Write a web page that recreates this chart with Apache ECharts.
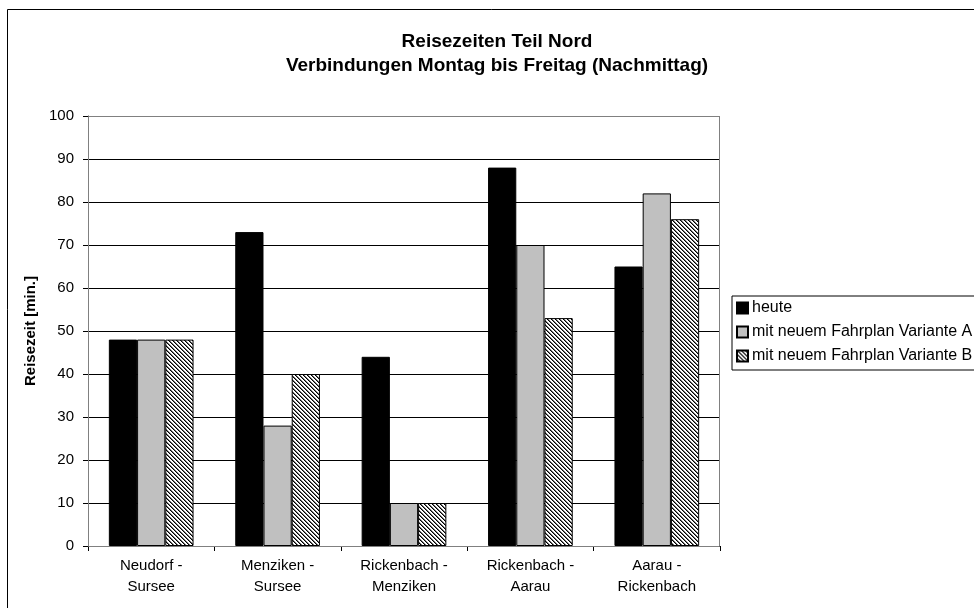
<!DOCTYPE html>
<html>
<head>
<meta charset="utf-8">
<script src="https://cdn.jsdelivr.net/npm/echarts@6/dist/echarts.min.js"></script>
<style>
  html, body { margin: 0; padding: 0; background: #fff; }
  #chart { width: 974px; height: 608px; }
</style>
</head>
<body>
<div id="chart"></div>
<script>
var categories = ['Neudorf -\nSursee', 'Menziken -\nSursee', 'Rickenbach -\nMenziken', 'Rickenbach -\nAarau', 'Aarau -\nRickenbach']
var heute = [48, 73, 44, 88, 65]
var varianteA = [48, 28, 10, 70, 82]
var varianteB = [48, 40, 10, 53, 76]
var seriesNames = ['heute', 'mit neuem Fahrplan Variante A', 'mit neuem Fahrplan Variante B']
var yTicks = { min: 0, max: 100, interval: 10 }

// diagonal hatch like the old office fill
function makeHatch() {
  var c = document.createElement('canvas')
  c.width = 4
  c.height = 4
  var ctx = c.getContext('2d')
  ctx.fillStyle = '#fff'
  ctx.fillRect(0, 0, 4, 4)
  for (var i = 0; i < 4; i++) {
    ctx.fillStyle = '#000'
    ctx.fillRect(i, i, 1, 1)
    ctx.fillStyle = '#707070'
    ctx.fillRect((i + 1) % 4, i, 1, 1)
  }
  return c
}

// gridlines black, top one grey like the plot frame
var gridColors = []
for (var t = yTicks.min; t <= yTicks.max; t += yTicks.interval) {
  gridColors.push(t === yTicks.max ? '#808080' : '#000')
}

var font = 'Arial, "Liberation Sans", sans-serif'
var chart = echarts.init(document.getElementById('chart'), null, { renderer: 'canvas' })

var option = {
  backgroundColor: '#fff',
  animation: false,
  textStyle: { fontFamily: font },
  title: {
    text: 'Reisezeiten Teil Nord\nVerbindungen Montag bis Freitag (Nachmittag)',
    left: 492,
    top: 25,
    textAlign: 'center',
    textStyle: { fontSize: 19, fontWeight: 'bold', color: '#000', lineHeight: 24, fontFamily: font }
  },
  graphic: [
    {
      type: 'rect',
      shape: { x: 7.5, y: 9.5, width: 1000, height: 700 },
      style: { fill: 'none', stroke: '#000', lineWidth: 1 },
      silent: true,
      z: 0
    },
    {
      type: 'rect',
      shape: { x: 88.5, y: 116.5, width: 631, height: 430 },
      style: { fill: 'none', stroke: '#808080', lineWidth: 1 },
      silent: true,
      z: 1
    }
  ],
  legend: {
    orient: 'vertical',
    left: 732,
    top: 296,
    data: seriesNames,
    itemWidth: 11,
    itemHeight: 11,
    itemGap: 8,
    icon: 'rect',
    borderColor: '#000',
    borderWidth: 1,
    borderRadius: 0,
    padding: [4, 10, 6, 4],
    textStyle: { fontSize: 16, color: '#000', fontFamily: font, padding: [0, 0, 0, -1] }
  },
  grid: { left: 88, right: 254, top: 116, bottom: 62 },
  xAxis: {
    type: 'category',
    data: categories,
    axisLine: { lineStyle: { color: '#000', width: 1 } },
    axisTick: { show: true, length: 5, lineStyle: { color: '#000' } },
    axisLabel: { color: '#000', fontSize: 15, lineHeight: 21, margin: 9, fontFamily: font }
  },
  yAxis: {
    type: 'value',
    min: yTicks.min,
    max: yTicks.max,
    interval: yTicks.interval,
    name: 'Reisezeit [min.]',
    nameLocation: 'middle',
    nameGap: 50,
    nameTextStyle: { fontSize: 15, fontWeight: 'bold', color: '#000', fontFamily: font },
    axisLine: { show: true, lineStyle: { color: '#404040', width: 1 } },
    axisTick: { show: true, length: 5, lineStyle: { color: '#000' } },
    axisLabel: { color: '#000', fontSize: 15, margin: 14, fontFamily: font },
    splitLine: { show: true, lineStyle: { color: gridColors, width: 1 } }
  },
  series: [
    {
      name: seriesNames[0],
      type: 'bar',
      data: heute,
      barGap: '0%',
      barCategoryGap: '33%',
      itemStyle: { color: '#000', borderColor: '#000', borderWidth: 1 }
    },
    {
      name: seriesNames[1],
      type: 'bar',
      data: varianteA,
      itemStyle: { color: '#c0c0c0', borderColor: '#000', borderWidth: 1 }
    },
    {
      name: seriesNames[2],
      type: 'bar',
      data: varianteB,
      itemStyle: {
        color: { image: makeHatch(), repeat: 'repeat' },
        borderColor: '#000',
        borderWidth: 1
      }
    }
  ]
}

chart.setOption(option)
</script>
</body>
</html>
